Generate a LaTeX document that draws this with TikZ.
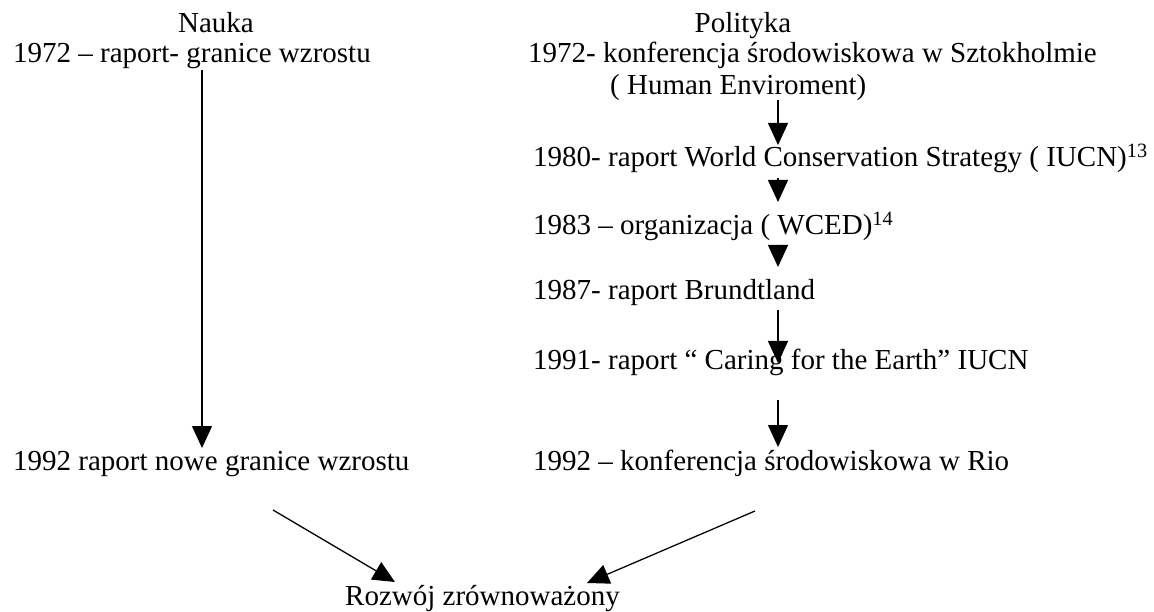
\documentclass[tikz,border=0pt]{standalone}
\usepackage{fontspec}
\setmainfont{Liberation Serif}
\usetikzlibrary{arrows.meta}
\begin{document}
\begin{tikzpicture}[x=1pt,y=-1pt,
  txt/.style={font=\fontsize{29}{34}\selectfont, inner sep=0pt, anchor=base west},
  arr/.style={line width=1.3pt, -{Triangle[width=20pt,length=22pt]}}]
\useasboundingbox (0,0) rectangle (1154,612);
\node[txt, anchor=base] (nauka) at (216,33) {Nauka};
\node[txt, anchor=base] (polityka) at (743,33) {Polityka};
\node[txt] (n1972) at (13,63) {1972 – raport- granice wzrostu};
\node[txt] (p1972) at (528,63) {1972- konferencja środowiskowa w Sztokholmie};
\node[txt] (p1972b) at (610,95) {( Human Enviroment)};
\node[txt] (p1980) at (533,167) {1980- raport World Conservation Strategy ( IUCN)\textsuperscript{13}};
\node[txt] (p1983) at (533,235) {1983 – organizacja ( WCED)\textsuperscript{14}};
\node[txt] (p1987) at (533,300) {1987- raport Brundtland};
\node[txt] (p1991) at (533,370) {1991- raport “ Caring for the Earth” IUCN};
\node[txt] (p1992) at (533,470) {1992 – konferencja środowiskowa w Rio};
\node[txt] (n1992) at (13,470) {1992 raport nowe granice wzrostu};
\node[txt] (rozwoj) at (345,605) {Rozwój zrównoważony};
% connector ends
\coordinate (na) at (202,70);  \coordinate (nb) at (202,448);
\coordinate (a1) at (778,100); \coordinate (b1) at (778,145);
\coordinate (a2) at (778,178); \coordinate (b2) at (778,202);
\coordinate (a3) at (778,245); \coordinate (b3) at (778,267);
\coordinate (a4) at (778,310); \coordinate (b4) at (778,363);
\coordinate (a5) at (778,400); \coordinate (b5) at (778,447);
\coordinate (la) at (273,510); \coordinate (lb) at (395,582);
\coordinate (ra) at (755,511); \coordinate (rb) at (587,583);
\draw[arr] (na) -- (nb);
\draw[arr] (a1) -- (b1);
\draw[arr] (a2) -- (b2);
\draw[arr] (a3) -- (b3);
\draw[arr] (a4) -- (b4);
\draw[arr] (a5) -- (b5);
\draw[arr] (la) -- (lb);
\draw[arr] (ra) -- (rb);
\end{tikzpicture}
\end{document}
